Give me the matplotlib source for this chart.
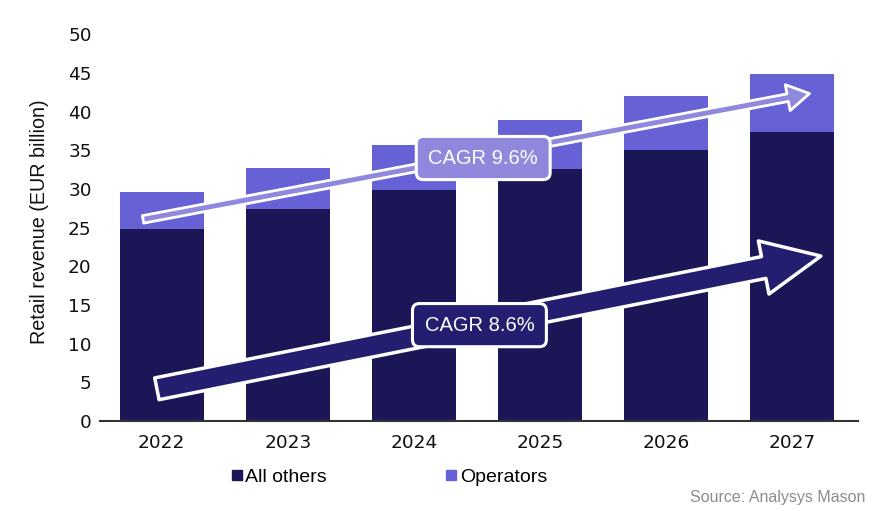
import numpy as np
import matplotlib
matplotlib.use('Agg')
import matplotlib.pyplot as plt
from matplotlib.patches import FancyArrowPatch
from matplotlib.lines import Line2D

#data
years=['2022','2023','2024','2025','2026','2027']
all_others=[24.8,27.4,29.9,32.6,35.0,37.4]
operators=[4.8,5.3,5.8,6.3,7.0,7.4]

cagr_total='CAGR 9.6%'
cagr_others='CAGR 8.6%'

#colours
dark='#1b1757'
light='#6661d4'
arrow_light='#8f88dc'
arrow_dark='#241e70'

plt.rcParams['font.family']=['Liberation Sans','DejaVu Sans']

fig=plt.figure(figsize=(8.8,5.11),dpi=100)
ax=fig.add_axes([0.1136,0.176,0.861,0.757])

x=np.arange(len(years))
ax.bar(x,all_others,width=0.667,color=dark,zorder=2)
ax.bar(x,operators,width=0.667,bottom=all_others,color=light,zorder=2)

ax.set_xlim(-0.49,5.52)
ax.set_ylim(0,50)
ax.set_yticks(np.arange(0,51,5))
ax.set_xticks(x)
ax.set_xticklabels(years)

for lab in ax.get_xticklabels()+ax.get_yticklabels():
    lab.set_fontfamily('DejaVu Sans')
    lab.set_fontsize(13.3)
    lab.set_color('#111111')

ax.tick_params(axis='both',length=0)
ax.tick_params(axis='x',pad=9)
ax.tick_params(axis='y',pad=6)

for s in ['top','right','left']:
    ax.spines[s].set_visible(False)
ax.spines['bottom'].set_color('#333333')
ax.spines['bottom'].set_linewidth(1.5)
ax.spines['bottom'].set_zorder(3)

ax.set_ylabel('Retail revenue (EUR billion)',fontsize=14.2,color='#111111')
ax.yaxis.set_label_coords(-0.067,0.515)

#arrows for total and all others
totals=[a+b for a,b in zip(all_others,operators)]

arr1=FancyArrowPatch((-0.17,totals[0]-3.6),(5.16,totals[-1]-2.4),
                     arrowstyle='simple,head_length=16,head_width=19,tail_width=5.5',
                     mutation_scale=1,facecolor=arrow_light,edgecolor='white',
                     linewidth=2,zorder=4)
ax.add_patch(arr1)

arr2=FancyArrowPatch((-0.06,4.1),(5.25,21.4),
                     arrowstyle='simple,head_length=42,head_width=39,tail_width=16',
                     mutation_scale=1,facecolor=arrow_dark,edgecolor='white',
                     linewidth=2.5,zorder=4)
ax.add_patch(arr2)

ax.text(2.55,34.0,cagr_total,ha='center',va='center',fontsize=14.5,color='white',zorder=6,
        bbox=dict(boxstyle='round,pad=0.6,rounding_size=0.35',facecolor=arrow_light,
                  edgecolor='white',linewidth=2.2))
ax.text(2.52,12.4,cagr_others,ha='center',va='center',fontsize=14.5,color='white',zorder=6,
        bbox=dict(boxstyle='round,pad=0.6,rounding_size=0.35',facecolor=arrow_dark,
                  edgecolor='white',linewidth=2.2))

#legend
handles=[Line2D([],[],marker='s',linestyle='none',markersize=7,color=dark),
         Line2D([],[],marker='s',linestyle='none',markersize=7,color=light)]
fig.legend(handles,['All others','Operators'],loc='center',bbox_to_anchor=(0.441,0.066),
           ncol=2,frameon=False,fontsize=14,handletextpad=0.05,columnspacing=6.0,
           handlelength=0.8)

fig.text(0.983,0.027,'Source: Analysys Mason',ha='right',va='center',fontsize=11.5,color='#8c8c8c')

fig.savefig('out.png',dpi=100)
